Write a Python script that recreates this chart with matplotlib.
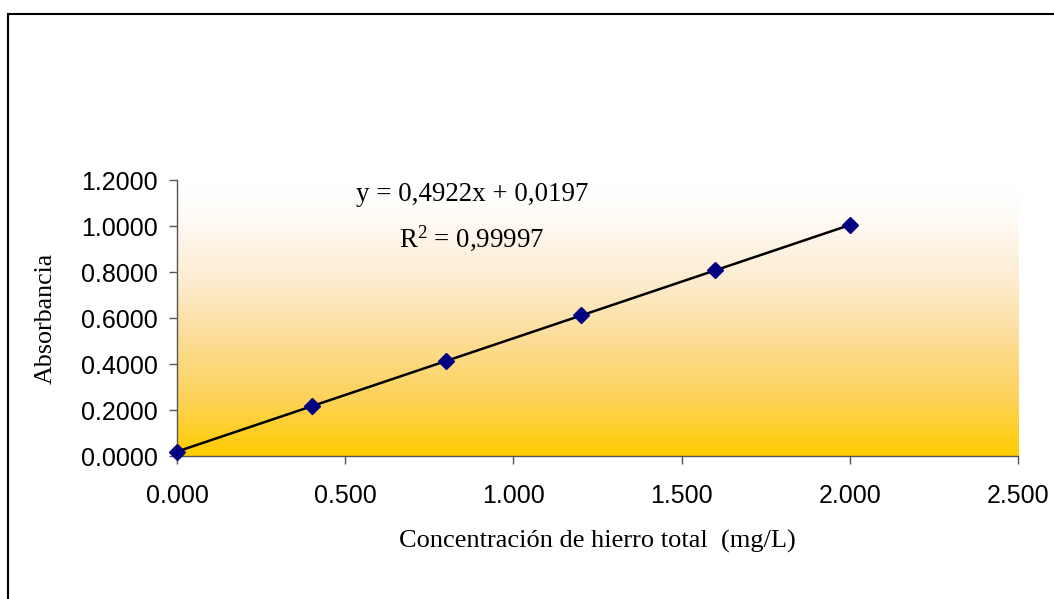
import numpy as np
import matplotlib
matplotlib.use("Agg")
import matplotlib.pyplot as plt
from matplotlib.patches import Rectangle
from matplotlib.colors import LinearSegmentedColormap

plt.rcParams["mathtext.fontset"] = "custom"
plt.rcParams["mathtext.rm"] = "Liberation Serif"
plt.rcParams["mathtext.it"] = "Liberation Serif:italic"

# Data
conc = [0.0, 0.4, 0.8, 1.2, 1.6, 2.0]
absorb = [0.019, 0.216, 0.413, 0.611, 0.807, 1.004]
eq_text = "y = 0,4922x + 0,0197"
r2_text = r"R$\mathregular{^2}$ = 0,99997"
x_ticks = [0.0, 0.5, 1.0, 1.5, 2.0, 2.5]
y_ticks = [0.0, 0.2, 0.4, 0.6, 0.8, 1.0, 1.2]

fig = plt.figure(figsize=(10.54, 5.99), dpi=100)
ax = fig.add_axes([177/1054, 1-456/599, (1018-177)/1054, (456-180)/599])

# background gradient
cmap = LinearSegmentedColormap.from_list(
    "g", [(0.0, "#FFCC00"), (0.2, "#FDD257"), (0.42, "#FCDD96"), (0.62, "#FDEBCC"),
          (0.8, "#FEF6EC"), (0.9, "#FFFDFA"), (1.0, "#FFFFFF")])
grad = np.linspace(0, 1, 256).reshape(-1, 1)
ax.imshow(grad, extent=[0, 2.5, 0, 1.2], origin="lower", aspect="auto", cmap=cmap, zorder=0)

# trendline
coef = np.polyfit(conc, absorb, 1)
xs = np.array([conc[0], conc[-1]])
ax.plot(xs, np.polyval(coef, xs), color="black", lw=1.8, zorder=2)
ax.plot(conc, absorb, linestyle="none", marker="D", markersize=8, color="#000080", zorder=3, clip_on=False)

ax.set_xlim(0, 2.5)
ax.set_ylim(0, 1.2)
ax.set_xticks(x_ticks)
ax.set_yticks(y_ticks)
ax.set_xticklabels([f"{v:.3f}" for v in x_ticks], family="Liberation Sans", fontsize=18)
ax.set_yticklabels([f"{v:.4f}" for v in y_ticks], family="Liberation Sans", fontsize=18)
ax.tick_params(direction="out", length=6, width=1, color="#555555")
ax.tick_params(axis="x", pad=14)
ax.tick_params(axis="y", pad=8)
for s in ["top", "right"]:
    ax.spines[s].set_visible(False)
for s in ["left", "bottom"]:
    ax.spines[s].set_color("#555555")
    ax.spines[s].set_linewidth(1)

ax.set_xlabel("Concentración de hierro total  (mg/L)", family="Liberation Serif", fontsize=19, labelpad=16)
ax.set_ylabel("Absorbancia", family="Liberation Serif", fontsize=18.7, labelpad=17)

ax.text(0.877, 1.139, eq_text, family="Liberation Serif", fontsize=19.4, ha="center", va="center", zorder=4)
ax.text(0.877, 0.948, r2_text, family="Liberation Serif", fontsize=19.4, ha="center", va="center", zorder=4)

# outer frame
fig.patches.append(Rectangle((8/1054, -0.05), 1.2, 1-14/599+0.05, transform=fig.transFigure,
                             fill=False, edgecolor="black", lw=1.5))

fig.savefig("out.png", dpi=100)
